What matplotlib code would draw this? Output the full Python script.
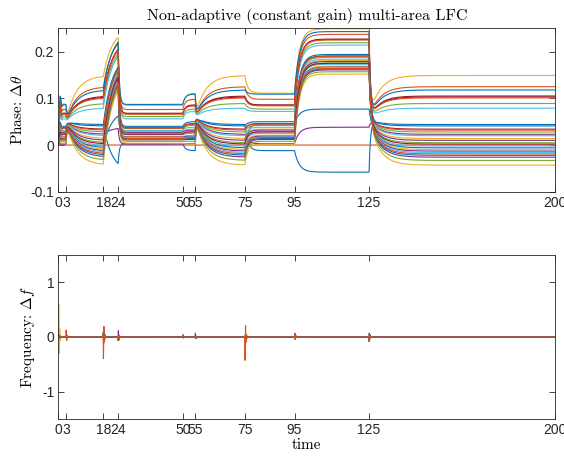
import numpy as np
import matplotlib.pyplot as plt

plt.rcParams['mathtext.fontset'] = 'cm'
plt.rcParams['axes.unicode_minus'] = False

# MATLAB default line colour order
colors = ['#0072BD', '#D95319', '#EDB120', '#7E2F8E', '#77AC30', '#4DBEEE', '#A2142F']

# load switching instants and the x ticks placed on them
switch_t = [0, 3, 18, 24, 50, 55, 75, 95, 125]
xtick_vals = [0, 3, 18, 24, 50, 55, 75, 95, 125, 200]

# steady-state phase of every area for the four load patterns
level_A = [0.003, 0, 0.085, 0.002, 0.061, 0.056, 0.068, 0.030, 0.076, 0.029,
           0.027, 0.035, 0.031, 0.067, 0.087, 0.066, 0.018, 0.017, 0.025, 0.022,
           0.037, 0.040, 0.036, 0.004, 0.011, 0.008, 0.016, 0.023, 0.013, 0.014]
level_B = [0.044, 0, 0.149, 0.023, 0.089, 0.079, 0.105, -0.006, 0.125, 0.014,
           0.010, 0.028, 0.020, 0.103, 0.118, 0.101, -0.010, -0.013, 0.005, -0.002,
           0.034, 0.041, 0.032, -0.043, -0.026, -0.033, -0.016, 0.002, -0.022, -0.019]
level_C = [-0.058, 0, 0.249, 0.038, 0.219, 0.214, 0.227, 0.077, 0.237, 0.181,
           0.179, 0.188, 0.184, 0.226, 0.243, 0.225, 0.169, 0.167, 0.176, 0.173,
           0.191, 0.194, 0.190, 0.152, 0.161, 0.157, 0.166, 0.175, 0.163, 0.164]
level_D = [-0.012, 0, 0.111, 0.003, 0.077, 0.072, 0.086, 0.045, 0.098, 0.034,
           0.032, 0.042, 0.038, 0.085, 0.109, 0.084, 0.021, 0.019, 0.029, 0.025,
           0.046, 0.050, 0.045, 0.002, 0.012, 0.008, 0.017, 0.028, 0.014, 0.016]
levels = {'A': level_A, 'B': level_B, 'C': level_C, 'D': level_D}
ref_area = 1  # reference bus, phase held at zero

# pattern reached after each switch, with its settling constants
switch_state = ['A', 'B', 'C', 'A', 'D', 'B', 'D', 'C', 'B']
switch_tau = [0.45, 0.5, 3.5, 0.5, 1.0, 0.5, 1.2, 1.9, 0.6]
switch_tau2 = [None, 4.0, None, None, None, 4.0, None, None, 4.0]
switch_pivot = [None, 0.05, None, None, None, 0.06, None, None, 0.055]

# leading frequency swing at each switch
spike_line = [2, 8, 8, 3, 8, 3, 8, 8, 10]
spike_amp = [0.8, 0.15, -0.62, 0.18, 0.05, 0.08, -0.58, -0.14, 0.2]


def phase_step(s, x0, target, k):
    tau = switch_tau[k]
    if k == 0:
        z, w = 0.45, 5.0
        wd = w * np.sqrt(1 - z ** 2)
        r = 1 - np.exp(-z * w * s) * (np.cos(wd * s) + z / np.sqrt(1 - z ** 2) * np.sin(wd * s))
        return x0 + (target - x0) * r
    if switch_pivot[k] is None:
        return target + (x0 - target) * np.exp(-s / tau)
    h = 1 - np.exp(-s / tau)
    g = 1 - np.exp(-s / switch_tau2[k])
    return (1 - h) * x0 + h * ((1 - g) * switch_pivot[k] + g * target)


t = np.arange(0, 200.0001, 0.01)
n = len(level_A)
theta = np.zeros((n, t.size))
freq = np.zeros((n, t.size))
ends = switch_t[1:] + [200]

for i in range(n):
    x0 = 0.0
    for k, t0 in enumerate(switch_t):
        target = levels[switch_state[k]][i]
        m = (t >= t0) & (t <= ends[k])
        s_all = np.clip(t - t0, 0, None)
        amp = 0.6 * (target - x0) if i != ref_area else 0.0
        if i == spike_line[k]:
            amp += spike_amp[k]
        freq[i] += np.where(t >= t0, amp * np.exp(-s_all / 0.28) * np.sin(2 * np.pi * 2.5 * s_all), 0)
        if i == ref_area:
            continue
        theta[i, m] = phase_step(t[m] - t0, x0, target, k)
        x0 = phase_step(ends[k] - t0, x0, target, k)

fig = plt.figure(figsize=(5.64, 4.62), dpi=100)
ax1 = fig.add_axes([0.1037, 0.585, 0.881, 0.3537])
ax2 = fig.add_axes([0.1037, 0.0931, 0.881, 0.355])

for i in range(n):
    ax1.plot(t, theta[i], color=colors[i % 7], lw=0.8)
    ax2.plot(t, freq[i], color=colors[i % 7], lw=0.8)

serif = 'cmr10'
ax1.set_ylim(-0.1, 0.25)
ax1.set_yticks([-0.1, 0, 0.1, 0.2])
ax1.set_yticklabels(['-0.1', '0', '0.1', '0.2'])
ax1.set_ylabel(r'Phase: $\Delta\theta$', fontfamily=serif, fontsize=11)
ax1.set_title('Non-adaptive (constant gain) multi-area LFC', fontfamily=serif, fontsize=11.5)

ax2.set_ylim(-1.5, 1.5)
ax2.set_yticks([-1, 0, 1])
ax2.set_yticklabels(['-1', '0', '1'])
ax2.set_ylabel(r'Frequency: $\Delta f$', fontfamily=serif, fontsize=11)
ax2.set_xlabel('time', fontfamily=serif, fontsize=11, labelpad=1)

for ax in (ax1, ax2):
    ax.set_xlim(0, 200)
    ax.set_xticks(xtick_vals)
    ax.set_xticklabels([str(v) for v in xtick_vals])
    ax.tick_params(direction='in', top=True, right=True, length=4, width=0.6,
                   colors='#262626', labelsize=10, pad=3)
    for lab in ax.get_xticklabels() + ax.get_yticklabels():
        lab.set_fontfamily(['Liberation Sans', 'DejaVu Sans'])
    for sp in ax.spines.values():
        sp.set_color('#262626')
        sp.set_linewidth(0.6)

fig.savefig('out.png', dpi=100)
